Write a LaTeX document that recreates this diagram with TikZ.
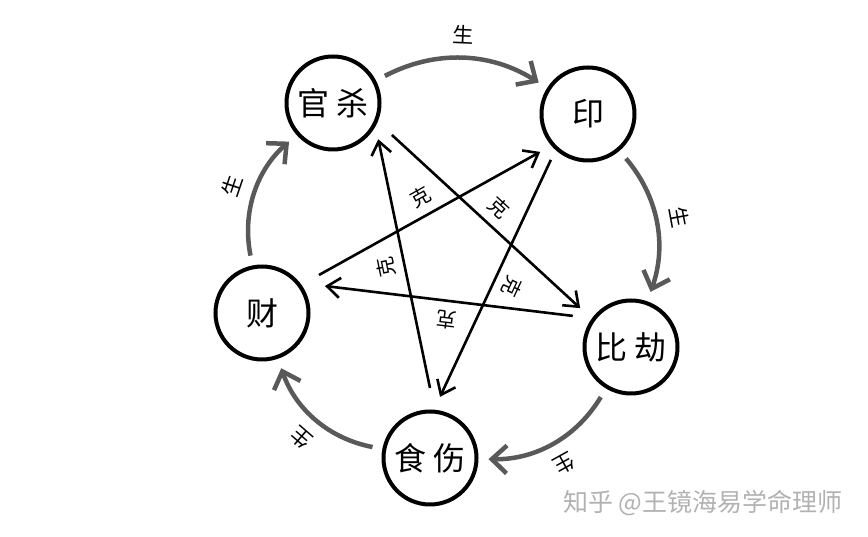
\documentclass[tikz,border=0pt]{standalone}
\usepackage{fontspec}
\setmainfont{Noto Sans CJK SC}
\usepackage{tikz}
\usetikzlibrary{arrows.meta, calc}
\definecolor{arcgray}{rgb}{0.35, 0.35, 0.35}
\definecolor{markgray}{rgb}{0.7, 0.7, 0.7}

\begin{document}
\begin{tikzpicture}[x=1pt, y=1pt,
    god/.style={circle, draw, line width=4pt, minimum size=93pt, inner sep=0pt, font=\fontsize{32}{38}\selectfont},
    sheng/.style={arcgray, line width=4.5pt, -{Straight Barb[length=15pt, width=28pt]}, shorten >=10pt, shorten <=10pt},
    ke/.style={line width=2.6pt, -{Straight Barb[length=13pt, width=20pt]}},
    shenglbl/.style={midway, sloped, above=10pt, allow upside down, black, font=\fontsize{21}{25}\selectfont},
    kelbl/.style={pos=0.5, sloped, above=5pt, allow upside down, font=\fontsize{20}{24}\selectfont}]
      \useasboundingbox (0,0) rectangle (868,537);
      \node[god] (guansha) at (333, 434) {官\hspace{7pt}杀};
      \node[god] (yin) at (588, 423) {印};
      \node[god] (bijie) at (631, 190) {比\hspace{7pt}劫};
      \node[god] (shishang) at (430, 79) {食\hspace{7pt}伤};
      \node[god] (cai) at (262, 224) {财};
      \draw[sheng] (guansha) to[bend left=30] node[shenglbl] {生} (yin);
      \draw[sheng] (yin) to[bend left=30] node[shenglbl] {生} (bijie);
      \draw[sheng] (bijie) to[bend left=30] node[shenglbl] {生} (shishang);
      \draw[sheng] (shishang) to[bend left=30] node[shenglbl] {生} (cai);
      \draw[sheng] (cai) to[bend left=30] node[shenglbl] {生} (guansha);
      \draw[ke] ($(guansha)+(-28.5:67)$) -- node[kelbl] {克} ($(bijie)+(142.6:64)$);
      \draw[ke] ($(shishang)+(90:70)$) -- node[kelbl] {克} ($(guansha)+(-38.7:58)$);
      \draw[ke] ($(cai)+(33.7:68.5)$) -- node[kelbl] {克} ($(yin)+(218.4:61)$);
      \draw[ke] ($(yin)+(231:59)$) -- node[kelbl] {克} ($(shishang)+(80.7:62)$);
      \draw[ke] ($(bijie)+(151.9:66)$) -- node[kelbl] {克} ($(cai)+(23.2:68.5)$);
      \node[markgray, font=\fontsize{25}{30}\selectfont] (mark) at (703, 34) {知乎 @王镜海易学命理师};
  \end{tikzpicture}
\end{document}
